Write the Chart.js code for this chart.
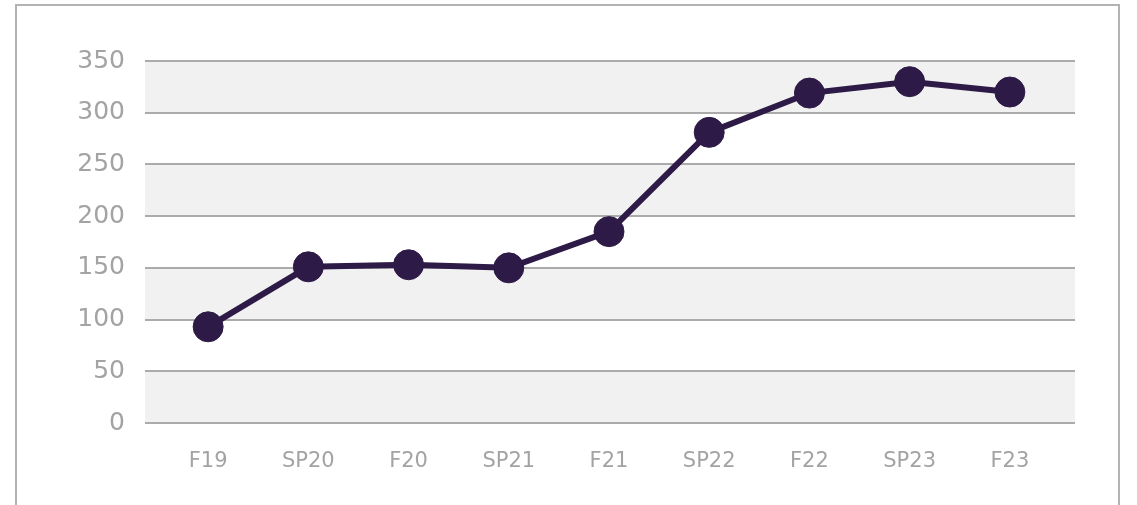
<!DOCTYPE html>
<html>
<head>
<meta charset="utf-8">
<script src="https://cdn.jsdelivr.net/npm/chart.js@4.4.1/dist/chart.umd.min.js"></script>
<style>
  html, body { margin: 0; padding: 0; background: #fff; }
  #wrap { position: relative; width: 1137px; height: 505px; overflow: hidden; }
  #frame {
    position: absolute; left: 15px; top: 4px; width: 1105px; height: 600px;
    border: 2px solid #b3b3b3; box-sizing: border-box;
  }
  #chart { position: absolute; left: 0; top: 0; }
</style>
</head>
<body>
<div id="wrap">
  <div id="frame"></div>
  <canvas id="chart" width="1137" height="505"></canvas>
</div>
<script>
// terms along the bottom, counts per term
const TERMS  = ["F19", "SP20", "F20", "SP21", "F21", "SP22", "F22", "SP23", "F23"];
const COUNTS = [93, 151, 153, 150, 185, 281, 319, 330, 320];
const Y_TICKS = [0, 50, 100, 150, 200, 250, 300, 350];

const LINE_COLOR  = "#2e1a47";
const GRID_COLOR  = "#ababab";
const BAND_COLOR  = "#f0f1f0";
const TICK_COLOR  = "#a3a3a3";

// fills every other gap between y gridlines, starting from the bottom
const bandPlugin = {
  id: "bands",
  beforeDraw(chart) {
    const { ctx, chartArea, scales } = chart;
    const y = scales.y;
    ctx.save();
    ctx.fillStyle = BAND_COLOR;
    for (let i = 0; i < Y_TICKS.length - 1; i += 2) {
      const top = y.getPixelForValue(Y_TICKS[i + 1]);
      const bot = y.getPixelForValue(Y_TICKS[i]);
      ctx.fillRect(chartArea.left, top, chartArea.right - chartArea.left, bot - top);
    }
    ctx.restore();
  },
};

const points = COUNTS.map((v, i) => ({ x: i, y: v }));

new Chart(document.getElementById("chart").getContext("2d"), {
  type: "line",
  data: {
    datasets: [{
      data: points,
      borderColor: LINE_COLOR,
      backgroundColor: LINE_COLOR,
      borderWidth: 6,
      pointRadius: 15,
      pointHoverRadius: 15,
      pointBorderColor: LINE_COLOR,
      pointBorderWidth: 1,
      tension: 0,
      fill: false,
    }],
  },
  options: {
    responsive: false,
    animation: false,
    layout: { padding: { top: 61, right: 62, bottom: 0, left: 0 } },
    plugins: { legend: { display: false }, tooltip: { enabled: false } },
    scales: {
      x: {
        type: "linear",
        min: -0.63,
        max: 8.65,
        afterBuildTicks: (s) => { s.ticks = TERMS.map((_, i) => ({ value: i })); },
        afterFit: (s) => { s.height = 82; },
        grid: { display: false, drawTicks: false },
        border: { display: false },
        ticks: {
          callback: (v) => TERMS[v] ?? "",
          color: TICK_COLOR,
          font: { family: "DejaVu Sans", size: 21 },
          padding: 26,
          maxRotation: 0,
          autoSkip: false,
        },
      },
      y: {
        min: 0,
        max: 350,
        afterBuildTicks: (s) => { s.ticks = Y_TICKS.map((v) => ({ value: v })); },
        afterFit: (s) => { s.width = 145; },
        grid: { color: GRID_COLOR, lineWidth: 2, drawTicks: false },
        border: { display: false },
        ticks: {
          color: TICK_COLOR,
          font: { family: "DejaVu Sans", size: 25 },
          padding: 20,
        },
      },
    },
  },
  plugins: [bandPlugin],
});
</script>
</body>
</html>
